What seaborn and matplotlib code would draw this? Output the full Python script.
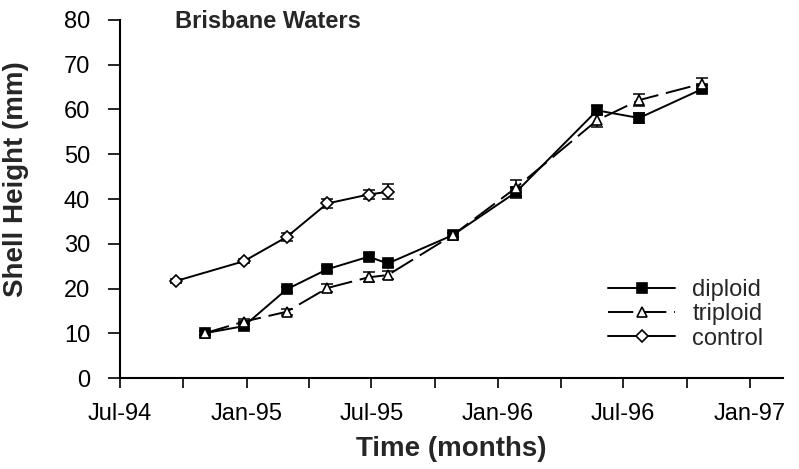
import numpy as np
import pandas as pd
import matplotlib
matplotlib.use("Agg")
import matplotlib.pyplot as plt
import matplotlib.dates as mdates
import seaborn as sns

# Sampling dates and mean shell heights (mm) with standard errors
diploid_dates = ["1994-11-01", "1994-12-28", "1995-02-28", "1995-04-28", "1995-06-27",
                 "1995-07-25", "1995-10-27", "1996-01-27", "1996-05-24", "1996-07-24",
                 "1996-10-24"]
diploid_height = [10.0, 11.6, 19.8, 24.3, 27.1, 25.6, 31.9, 41.5, 59.8, 58.1, 64.6]
diploid_err = [0.4, 0.6, 0.6, 0.7, 0.8, 0.7, 0.5, 1.2, 1.0, 1.1, 0.8]

triploid_dates = diploid_dates
triploid_height = [10.0, 12.6, 14.8, 20.1, 22.5, 23.0, 31.9, 42.5, 57.6, 62.1, 65.8]
triploid_err = [0.4, 0.5, 0.7, 0.9, 1.1, 0.8, 0.5, 1.8, 1.4, 1.4, 1.3]

control_dates = ["1994-09-21", "1994-12-28", "1995-02-28", "1995-04-28", "1995-06-27",
                 "1995-07-25"]
control_height = [21.7, 26.1, 31.5, 39.0, 41.0, 41.6]
control_err = [0.4, 0.5, 0.8, 1.0, 0.9, 1.7]

groups = ["diploid", "triploid", "control"]
series = {
    "diploid": (diploid_dates, diploid_height, diploid_err),
    "triploid": (triploid_dates, triploid_height, triploid_err),
    "control": (control_dates, control_height, control_err),
}

frames = []
for g in groups:
    d, h, e = series[g]
    frames.append(pd.DataFrame({"date": pd.to_datetime(d), "height": h, "err": e, "group": g}))
df = pd.concat(frames, ignore_index=True)

sns.set_style("ticks")
plt.rcParams["font.family"] = ["Liberation Sans", "DejaVu Sans"]

fig = plt.figure(figsize=(7.99, 4.69), dpi=100)
ax = fig.add_axes([120 / 799, 1 - 378 / 469, 663 / 799, 358 / 469])

# error bars beneath the markers
for g in groups:
    sub = df[df["group"] == g]
    ax.errorbar(sub["date"], sub["height"], yerr=sub["err"], fmt="none",
                ecolor="black", elinewidth=1.1, capsize=4, capthick=1.1, zorder=2)

sns.lineplot(
    data=df, x="date", y="height", hue="group", style="group",
    hue_order=groups, style_order=groups,
    palette={g: "black" for g in groups},
    markers={"diploid": "s", "triploid": "^", "control": "D"},
    dashes={"diploid": "", "triploid": (13, 4), "control": ""},
    markersize=7, linewidth=1.4, legend=False, ax=ax, zorder=3,
)

data_lines = [ln for ln in ax.lines if ln.get_marker() in ("s", "^", "D")]
faces = {"s": "black", "^": "white", "D": "white"}
sizes = {"s": 7, "^": 7.5, "D": 6}
for ln in data_lines:
    m = ln.get_marker()
    ln.set_markerfacecolor(faces[m])
    ln.set_markeredgecolor("black")
    ln.set_markeredgewidth(1.2)
    ln.set_markersize(sizes[m])

ax.legend(data_lines, groups, loc="upper left",
          bbox_to_anchor=(608 / 799, 1 - 279 / 469), bbox_transform=fig.transFigure,
          frameon=False, borderpad=0, borderaxespad=0, handlelength=2.85,
          handletextpad=0.72, labelspacing=0.1, fontsize=17)

ax.set_ylim(0, 80)
ax.set_yticks(np.arange(0, 81, 10))
ax.set_xlim(pd.Timestamp("1994-07-01"), pd.Timestamp("1997-02-18"))
ax.xaxis.set_major_locator(mdates.MonthLocator(bymonth=[1, 7]))
ax.xaxis.set_minor_locator(mdates.MonthLocator(bymonth=[4, 10]))
ax.xaxis.set_major_formatter(mdates.DateFormatter("%b-%y"))

for s in ("top", "right"):
    ax.spines[s].set_visible(False)
for s in ("left", "bottom"):
    ax.spines[s].set_linewidth(1.5)
    ax.spines[s].set_color("black")

ax.tick_params(axis="y", which="major", direction="out", length=9, width=1.2,
               labelsize=17, pad=12.5, colors="black")
ax.tick_params(axis="x", which="both", direction="out", length=7, width=1.2,
               labelsize=17, pad=11, colors="black")

ax.set_xlabel("Time (months)", fontsize=20, fontweight="bold", labelpad=8)
ax.set_ylabel("Shell Height (mm)", fontsize=20, fontweight="bold")
ax.yaxis.set_label_coords(-0.137, 0.555)

ax.text(175 / 799, 1 - 22 / 469, "Brisbane Waters", transform=fig.transFigure,
        fontsize=17, fontweight="bold", ha="left", va="center")

fig.savefig("out.png", dpi=100, facecolor="white")
